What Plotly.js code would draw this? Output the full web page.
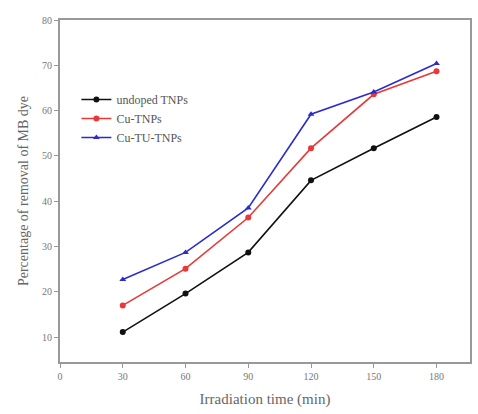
<!DOCTYPE html>
<html><head><meta charset="utf-8">
<script src="https://cdn.plot.ly/plotly-3.0.1.min.js"></script>
<style>html,body{margin:0;padding:0;background:#fff}#c{width:478px;height:414px}</style>
</head><body><div id="c"></div>
<script>
const times = [30, 60, 90, 120, 150, 180];
const undoped = [11.1, 19.6, 28.7, 44.6, 51.7, 58.6];
const cuTNPs = [17.0, 25.1, 36.4, 51.7, 63.6, 68.7];
const cuTuTNPs = [22.7, 28.7, 38.5, 59.2, 64.1, 70.4];
const names = ['undoped TNPs', 'Cu-TNPs', 'Cu-TU-TNPs'];
const xTicks = [0, 30, 60, 90, 120, 150, 180];
const yTicks = [10, 20, 30, 40, 50, 60, 70, 80];

const mk = (y, name, color, symbol) => ({
  x: times, y: y, name: name, type: 'scatter', mode: 'lines+markers',
  line: {color: color, width: 1.6},
  marker: {color: color, symbol: symbol, size: 6}
});
const data = [
  mk(undoped, names[0], '#111111', 'circle'),
  mk(cuTNPs, names[1], '#e8383a', 'circle'),
  mk(cuTuTNPs, names[2], '#2b2bd0', 'triangle-up')
];
const axisCommon = {
  showline: true, linecolor: '#999', linewidth: 2, mirror: true,
  ticks: 'outside', ticklen: 4, tickcolor: '#999', showgrid: false, zeroline: false,
  tickfont: {family: 'Liberation Serif, serif', size: 10, color: '#777'}
};
const layout = {
  width: 478, height: 414,
  margin: {l: 60, r: 8, t: 20, b: 52},
  paper_bgcolor: '#fff', plot_bgcolor: '#fff',
  font: {family: 'Liberation Serif, serif', color: '#555'},
  showlegend: true,
  legend: {x: 0.04, y: 0.81, xanchor: 'left', yanchor: 'top', bgcolor: 'rgba(0,0,0,0)',
    font: {family: 'Liberation Serif, serif', size: 12, color: '#555'},
    tracegroupgap: 0, itemwidth: 30},
  xaxis: Object.assign({}, axisCommon, {range: [0, 196], tickvals: xTicks,
    title: {text: 'Irradiation time (min)', font: {family: 'Liberation Serif, serif', size: 15, color: '#666'}, standoff: 12}}),
  yaxis: Object.assign({}, axisCommon, {range: [4.5, 80], tickvals: yTicks,
    title: {text: 'Percentage of removal of MB dye', font: {family: 'Liberation Serif, serif', size: 14, color: '#666'}, standoff: 10}})
};
Plotly.newPlot('c', data, layout, {displayModeBar: false, staticPlot: true});
</script></body></html>
